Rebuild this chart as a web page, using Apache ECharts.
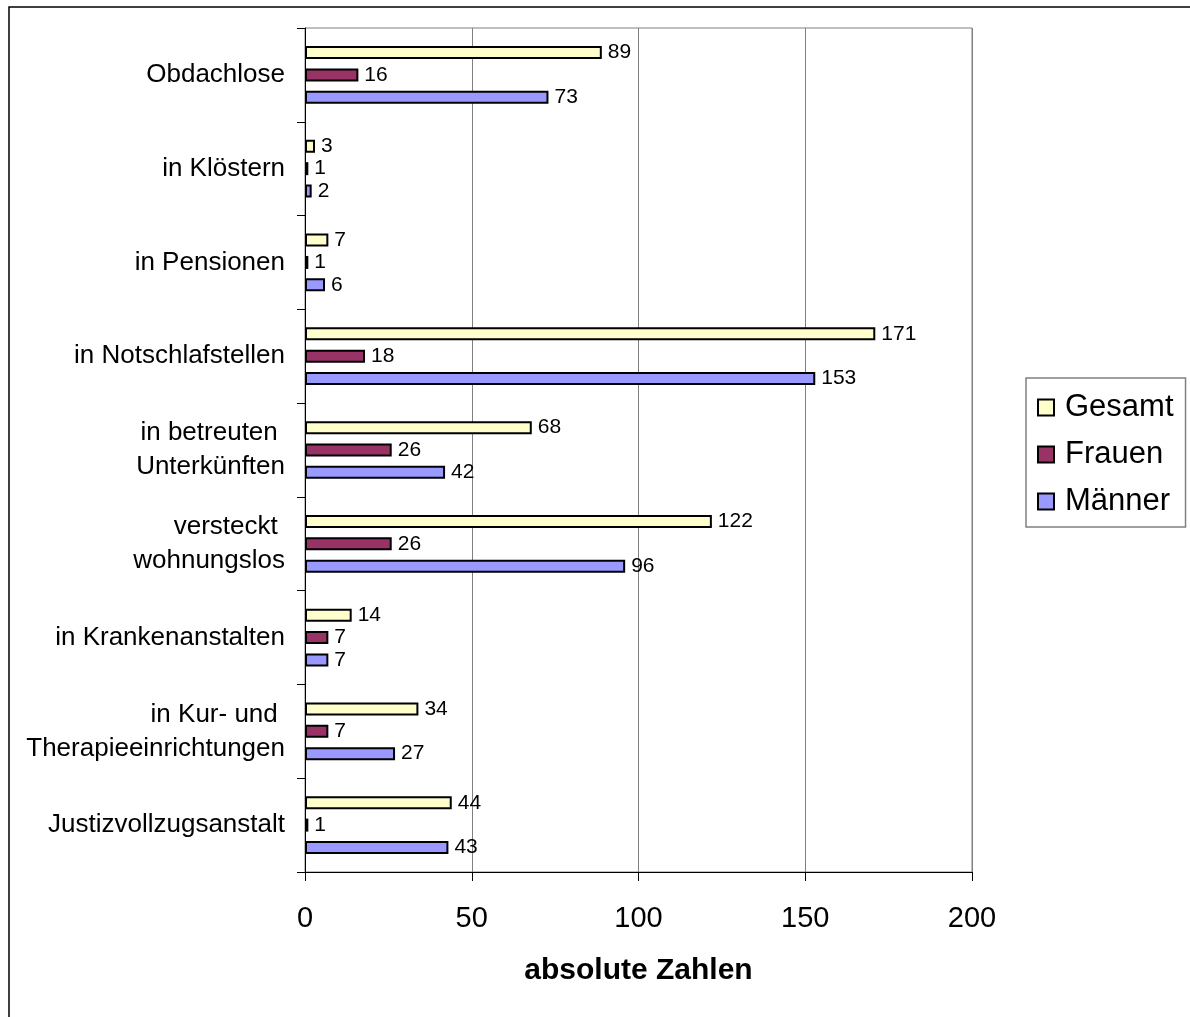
<!DOCTYPE html>
<html><head><meta charset="utf-8">
<script src="https://cdn.jsdelivr.net/npm/echarts@6/dist/echarts.min.js"></script>
<style>html,body{margin:0;padding:0;background:#fff}#c{width:1190px;height:1017px}</style>
</head><body><div id="c"></div>
<script>
const categories = ['Obdachlose','in Klöstern','in Pensionen','in Notschlafstellen','in betreuten \nUnterkünften','versteckt \nwohnungslos','in Krankenanstalten','in Kur- und \nTherapieeinrichtungen','Justizvollzugsanstalt'];
const seriesNames = ['Gesamt','Frauen','Männer'];
const gesamt = [89,3,7,171,68,122,14,34,44];
const frauen = [16,1,1,18,26,26,7,7,1];
const maenner = [73,2,6,153,42,96,7,27,43];
const xTicks = [0,50,100,150,200];
const colors = ['#FFFFCC','#993366','#9999FF'];
const FONT = '"Liberation Sans", Arial, sans-serif';

const chart = echarts.init(document.getElementById('c'), null, {renderer:'canvas'});
const mk = (name, data, color) => ({
  name, type:'bar', data,
  barWidth:13, barGap:'72%',
  itemStyle:{color, borderColor:'#000', borderWidth:2},
  label:{show:true, position:'right', distance:6, color:'#000', fontSize:21, fontFamily:FONT},
  emphasis:{disabled:true}, animation:false
});
chart.setOption({
  animation:false,
  textStyle:{fontFamily:FONT},
  graphic:[{type:'rect', shape:{x:9,y:7,width:1400,height:1200}, style:{fill:'none', stroke:'#000', lineWidth:1.5}, silent:true, z:-10}],
  grid:{left:305, right:218, top:28, bottom:145, show:true, borderColor:'#808080', borderWidth:1, backgroundColor:'transparent'},
  legend:{
    orient:'vertical', left:1026, top:378,
    data:seriesNames, itemWidth:16, itemHeight:16, itemGap:16,
    padding:[14,12,10,11], borderColor:'#808080', borderWidth:1.5,
    textStyle:{fontSize:31, color:'#000', fontFamily:FONT, padding:[0,0,0,6]},
    icon:'rect', selectedMode:false
  },
  xAxis:{
    type:'value', min:0, max:200, interval:50,
    axisLine:{show:true, lineStyle:{color:'#000', width:1}},
    axisTick:{show:true, inside:false, length:9, lineStyle:{color:'#000'}},
    splitLine:{show:true, lineStyle:{color:'#808080', width:1}},
    axisLabel:{fontSize:29, color:'#000', margin:32, fontFamily:FONT, formatter:(v)=>String(xTicks[xTicks.indexOf(v)])},
    name:'absolute Zahlen', nameLocation:'middle', nameGap:84,
    nameTextStyle:{fontSize:30, fontWeight:'bold', color:'#000', fontFamily:FONT}
  },
  yAxis:{
    type:'category', data:categories, inverse:true,
    axisLine:{show:true, lineStyle:{color:'#000', width:1}},
    axisTick:{show:true, inside:false, length:8, lineStyle:{color:'#000'}},
    axisLabel:{fontSize:26, color:'#000', margin:20, lineHeight:34, fontFamily:FONT, align:'right'},
    splitLine:{show:false}
  },
  series:[mk(seriesNames[0], gesamt, colors[0]), mk(seriesNames[1], frauen, colors[1]), mk(seriesNames[2], maenner, colors[2])]
});
</script></body></html>
